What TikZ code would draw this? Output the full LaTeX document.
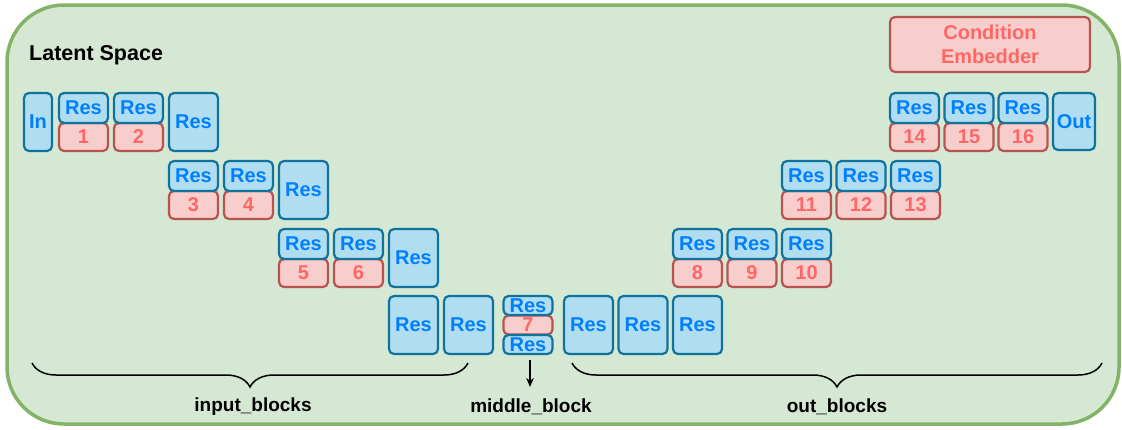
\documentclass[tikz,border=0pt]{standalone}
\usepackage{xcolor}
\usepackage{fontspec}
\setmainfont{Liberation Sans}
\usepackage{tikz}
\usetikzlibrary{arrows.meta,decorations.pathreplacing}
\definecolor{bgfill}{HTML}{D5E8D4}
\definecolor{bgline}{HTML}{82B366}
\definecolor{resfill}{HTML}{B1DDF0}
\definecolor{resline}{HTML}{10739E}
\definecolor{restext}{HTML}{007FFF}
\definecolor{numfill}{HTML}{F8CECC}
\definecolor{numline}{HTML}{B85450}
\definecolor{numtext}{HTML}{FF6666}

\begin{document}
\begin{tikzpicture}[x=1pt, y=-1pt,
  resbox/.style={draw=resline, fill=resfill, text=restext, line width=2.2pt, rounded corners=5pt,
    inner sep=0pt, outer sep=0pt, minimum width=49pt, minimum height=30pt,
    font=\fontsize{20}{24}\selectfont\bfseries},
  bigbox/.style={resbox, minimum height=58pt},
  numbox/.style={draw=numline, fill=numfill, text=numtext, line width=2.2pt, rounded corners=5pt,
    inner sep=0pt, outer sep=0pt, minimum width=49pt, minimum height=28pt,
    font=\fontsize{20}{24}\selectfont\bfseries},
  midbox/.style={minimum height=19pt},
  blocklabel/.style={inner sep=0pt, font=\fontsize{19}{23}\selectfont\bfseries},
  bracket/.style={decorate, decoration={brace, mirror, amplitude=24pt}, line width=1.5pt}]
  \useasboundingbox (0,0) rectangle (1122,429);
  % latent space frame
  \draw[bgline, fill=bgfill, line width=3.5pt, rounded corners=57pt] (7,5) rectangle (1119,424);
  \node[anchor=base west, inner sep=0pt, font=\fontsize{21.5}{25}\selectfont\bfseries] (latent) at (29,60) {Latent Space};
  \node[numbox, minimum width=200pt, minimum height=55pt, align=center] (cond) at (990,44.5) {Condition\\Embedder};
  % input blocks
  \node[bigbox, minimum width=28pt] (in) at (38,122) {In};
  \node[numbox] (n1) at (83.5,137) {1};
  \node[resbox] (r1) at (83.5,108) {Res};
  \node[numbox] (n2) at (138.5,137) {2};
  \node[resbox] (r2) at (138.5,108) {Res};
  \node[bigbox] (b1) at (193.5,122) {Res};
  \node[numbox] (n3) at (193.5,205) {3};
  \node[resbox] (r3) at (193.5,176) {Res};
  \node[numbox] (n4) at (248.5,205) {4};
  \node[resbox] (r4) at (248.5,176) {Res};
  \node[bigbox] (b2) at (303.5,190) {Res};
  \node[numbox] (n5) at (303.5,273) {5};
  \node[resbox] (r5) at (303.5,244) {Res};
  \node[numbox] (n6) at (358.5,273) {6};
  \node[resbox] (r6) at (358.5,244) {Res};
  \node[bigbox] (b3) at (413.5,258) {Res};
  \node[bigbox] (b4) at (413.5,325) {Res};
  \node[bigbox] (b5) at (468.5,325) {Res};
  % middle block
  \node[numbox, midbox] (n7) at (528,325) {7};
  \node[resbox, midbox] (m1) at (528,305.5) {Res};
  \node[resbox, midbox] (m2) at (528,344.5) {Res};
  % out blocks
  \node[bigbox] (b6) at (588.5,325) {Res};
  \node[bigbox] (b7) at (643,325) {Res};
  \node[bigbox] (b8) at (697.5,325) {Res};
  \node[numbox] (n8) at (697.5,273) {8};
  \node[resbox] (r8) at (697.5,244) {Res};
  \node[numbox] (n9) at (752,273) {9};
  \node[resbox] (r9) at (752,244) {Res};
  \node[numbox] (n10) at (806.5,273) {10};
  \node[resbox] (r10) at (806.5,244) {Res};
  \node[numbox] (n11) at (806.5,205) {11};
  \node[resbox] (r11) at (806.5,176) {Res};
  \node[numbox] (n12) at (861,205) {12};
  \node[resbox] (r12) at (861,176) {Res};
  \node[numbox] (n13) at (915.5,205) {13};
  \node[resbox] (r13) at (915.5,176) {Res};
  \node[numbox] (n14) at (914.5,137) {14};
  \node[resbox] (r14) at (914.5,108) {Res};
  \node[numbox] (n15) at (969,137) {15};
  \node[resbox] (r15) at (969,108) {Res};
  \node[numbox] (n16) at (1023,137) {16};
  \node[resbox] (r16) at (1023,108) {Res};
  \node[bigbox, minimum width=42pt, minimum height=57pt] (out) at (1074,121.5) {Out};
  % braces and labels
  \draw[bracket] (32,363) -- (468,363);
  \draw[bracket] (572,363) -- (1102,363);
  \coordinate (arrowend) at (530,387);
  \draw[line width=1.5pt, -{Stealth[length=9pt, width=7.5pt]}] ([xshift=2pt, yshift=-6pt]m2.south) -- (arrowend);
  \node[blocklabel] (inlabel) at (253,407) {input\_blocks};
  \node[blocklabel] (midlabel) at (531,407) {middle\_block};
  \node[blocklabel] (outlabel) at (837,407) {out\_blocks};
\end{tikzpicture}
\end{document}
